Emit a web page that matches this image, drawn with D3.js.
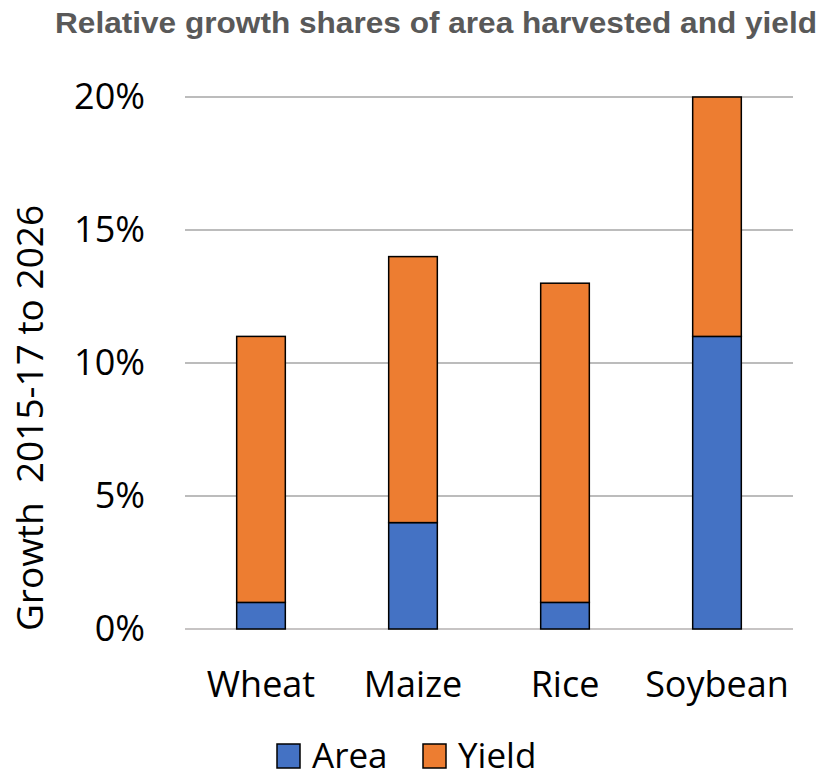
<!DOCTYPE html>
<html>
<head>
<meta charset="utf-8">
<script src="https://cdn.jsdelivr.net/npm/d3@7"></script>
<style>
  body { margin: 0; background: #fff; }
  text { font-family: "Open Sans", "DejaVu Sans", sans-serif; }
</style>
</head>
<body>
<script>
// chart data
var crops = ["Wheat", "Maize", "Rice", "Soybean"];
var areaValues = [1, 4, 1, 11];
var yieldValues = [10, 10, 12, 9];
var seriesNames = ["Area", "Yield"];
var seriesColors = ["#4472c4", "#ed7d31"];
var yTicks = [0, 5, 10, 15, 20];

var dim = {
  w: 824,
  h: 773,
  left: 185,
  right: 793,
  top: 97,
  bottom: 629
}

var svg = d3.select("body")
  .append("svg")
  .attr("width", dim.w)
  .attr("height", dim.h);

// title
svg.append("text")
  .attr("x", 55)
  .attr("y", 33)
  .attr("textLength", 762)
  .attr("lengthAdjust", "spacingAndGlyphs")
  .style("font-family", "'Liberation Sans', Arial, sans-serif")
  .style("font-weight", "bold")
  .style("font-size", "30px")
  .attr("fill", "#595959")
  .text("Relative growth shares of area harvested and yield");

var xScale = d3.scaleBand()
  .domain(crops)
  .range([dim.left, dim.right])
  .paddingInner(0.68)
  .paddingOuter(0.34);

var yScale = d3.scaleLinear()
  .domain([0, 20])
  .range([dim.bottom, dim.top]);

// gridlines
svg.append("g")
  .selectAll("line")
  .data(yTicks)
  .enter()
  .append("line")
  .attr("x1", dim.left)
  .attr("x2", dim.right)
  .attr("y1", function(d) { return yScale(d); })
  .attr("y2", function(d) { return yScale(d); })
  .attr("stroke", function(d) { return d == 0 ? "#b4b0b0" : "#a6a6a6"; })
  .attr("stroke-width", 1.5);

// y axis tick labels
var yAxis = d3.axisLeft(yScale)
  .tickValues(yTicks)
  .tickSize(0)
  .tickPadding(40)
  .tickFormat(function(d) { return d + "%"; });

var gy = svg.append("g")
  .attr("transform", "translate(" + dim.left + ",0)")
  .call(yAxis);
gy.select(".domain").remove();
gy.selectAll("text")
  .style("font-family", "'Open Sans', sans-serif")
  .style("font-size", "36px")
  .attr("fill", "#000");

// x axis labels
var xAxis = d3.axisBottom(xScale).tickSize(0).tickPadding(42);
var gx = svg.append("g")
  .attr("transform", "translate(0," + dim.bottom + ")")
  .call(xAxis);
gx.select(".domain").remove();
gx.selectAll("text")
  .style("font-family", "'Open Sans', sans-serif")
  .style("font-size", "36px")
  .attr("fill", "#000");

// stacked bars
var table = crops.map(function(c, i) {
  return { crop: c, Area: areaValues[i], Yield: yieldValues[i] };
});
var stacked = d3.stack().keys(seriesNames)(table);

svg.append("g")
  .selectAll("g")
  .data(stacked)
  .enter()
  .append("g")
  .attr("fill", function(d, i) { return seriesColors[i]; })
  .selectAll("rect")
  .data(function(d) { return d; })
  .enter()
  .append("rect")
  .attr("x", function(d) { return xScale(d.data.crop); })
  .attr("y", function(d) { return yScale(d[1]); })
  .attr("width", xScale.bandwidth())
  .attr("height", function(d) { return yScale(d[0]) - yScale(d[1]); })
  .attr("stroke", "#000")
  .attr("stroke-width", 1.5);

// y axis title
svg.append("text")
  .attr("transform", "translate(43," + 418 + ") rotate(-90)")
  .attr("text-anchor", "middle")
  .style("font-size", "37px")
  .style("white-space", "pre")
  .attr("fill", "#000")
  .text("Growth  2015-17 to 2026");

// legend
var legend = svg.append("g")
  .selectAll("g")
  .data(seriesNames)
  .enter()
  .append("g")
  .attr("transform", function(d, i) { return "translate(" + (277 + i * 146) + ",744)"; });

legend.append("rect")
  .attr("width", 23)
  .attr("height", 24)
  .attr("fill", function(d, i) { return seriesColors[i]; })
  .attr("stroke", "#000")
  .attr("stroke-width", 1.5);

legend.append("text")
  .attr("x", 35)
  .attr("y", 24)
  .style("font-size", "35px")
  .attr("fill", "#000")
  .text(function(d) { return d; });
</script>
</body>
</html>
